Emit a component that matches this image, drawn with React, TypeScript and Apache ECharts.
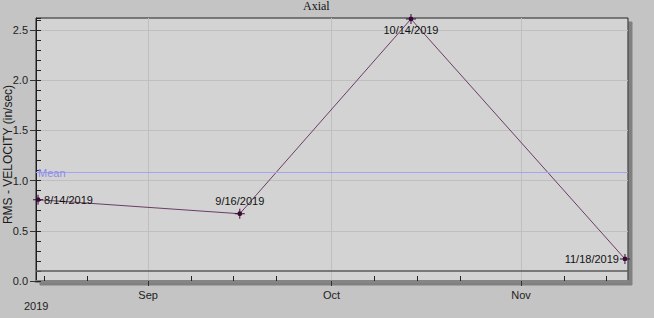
import React, { useEffect, useRef } from "react";
import * as echarts from "echarts";

const pointDates = ["2019-08-14", "2019-09-16", "2019-10-14", "2019-11-18"];
const pointValues = [0.81, 0.67, 2.61, 0.22];
const pointLabels = ["8/14/2019", "9/16/2019", "10/14/2019", "11/18/2019"];
const meanValue = 1.08;
const meanLabel = "Mean";
const alarmValue = 0.1;
const monthTickDates = ["2019-09-01", "2019-10-01", "2019-11-01"];
const monthTickLabels = ["Sep", "Oct", "Nov"];
const weekTickDates = [
  "2019-08-15", "2019-08-22", "2019-09-08", "2019-09-15", "2019-09-22",
  "2019-10-08", "2019-10-15", "2019-10-22", "2019-11-08", "2019-11-15",
];
const yearLabel = "2019";
const yLabelValues = [0, 0.5, 1.0, 1.5, 2.0, 2.5];
const yMax = 2.62;
const xRangeStart = "2019-08-13T16:00";
const xRangeEnd = "2019-11-18T12:00";
const titleText = "Axial";
const yAxisName = "RMS - VELOCITY (in/sec)";

const labelPlacement = ["right", "top", "bottom", "left"];
const labelDistance = [1, 2, 0, 1];

function toTime(s: string): number {
  const [datePart, timePart] = s.split("T");
  const [y, m, d] = datePart.split("-").map(Number);
  let h = 0;
  let mi = 0;
  if (timePart) {
    const parts = timePart.split(":").map(Number);
    h = parts[0];
    mi = parts[1] || 0;
  }
  return new Date(y, m - 1, d, h, mi).getTime();
}

const FONT = "Liberation Sans, Arial, sans-serif";
const markerPath =
  "path://M4.5,0 h1 v4.5 h4.5 v1 h-4.5 v4.5 h-1 v-4.5 h-4.5 v-1 h4.5 z M7.4,5 A2.4,2.4 0 1 1 2.6,5 A2.4,2.4 0 1 1 7.4,5 z";

export default function App() {
  const ref = useRef<HTMLDivElement>(null);
  useEffect(() => {
    document.body.style.margin = "0";
    if (!ref.current) return;
    const chart = echarts.init(ref.current, undefined, { renderer: "svg" });
    const xMin = toTime(xRangeStart);
    const xMax = toTime(xRangeEnd);
    const monthTimes = monthTickDates.map(toTime);
    const weekTimes = weekTickDates.map(toTime);

    const data = pointDates.map((d, i) => ({
      value: [toTime(d), pointValues[i]],
      label: {
        show: true,
        formatter: pointLabels[i],
        position: labelPlacement[i] as any,
        distance: labelDistance[i],
      },
    }));

    chart.setOption({
      animation: false,
      backgroundColor: "#c4c4c4",
      title: {
        text: titleText,
        left: 303,
        top: 0,
        padding: 0,
        textStyle: {
          fontFamily: "Liberation Serif, Times New Roman, serif",
          fontSize: 12,
          fontWeight: "normal",
          color: "#111",
        },
      },
      graphic: [
        {
          type: "text",
          left: 24,
          top: 300,
          style: {
            text: yearLabel,
            font: `11px ${FONT}`,
            fill: "#222",
          },
        },
      ],
      grid: {
        left: 36,
        right: 26,
        top: 18,
        bottom: 37,
        containLabel: false,
        outerBoundsMode: "none",
        show: true,
        backgroundColor: "#d3d3d3",
        borderColor: "#1e1e1e",
        borderWidth: 1,
        shadowColor: "#808080",
        shadowBlur: 0,
        shadowOffsetX: 4,
        shadowOffsetY: 4,
      },
      xAxis: [
        {
          type: "value",
          min: xMin,
          max: xMax,
          axisLine: { show: true, lineStyle: { color: "#858585", width: 3 } },
          axisTick: {
            show: true,
            customValues: monthTimes,
            length: 5,
            inside: false,
            lineStyle: { color: "#333", width: 1 },
          },
          axisLabel: {
            customValues: monthTimes,
            formatter: (v: number) => {
              const idx = monthTimes.findIndex((m) => Math.abs(m - v) < 3600000);
              return idx >= 0 ? monthTickLabels[idx] : "";
            },
            fontFamily: FONT,
            fontSize: 11,
            color: "#222",
            margin: 8,
          },
          splitLine: { show: true, lineStyle: { color: "#bfbfbf", width: 1 } },
        },
        {
          type: "value",
          min: xMin,
          max: xMax,
          position: "bottom",
          axisLine: { show: false },
          axisTick: {
            show: true,
            customValues: weekTimes,
            length: 5,
            inside: true,
            lineStyle: { color: "#222", width: 1 },
          },
          axisLabel: { show: false },
          splitLine: { show: false },
        },
      ],
      yAxis: [
        {
          type: "value",
          min: 0,
          max: yMax,
          name: yAxisName,
          nameLocation: "middle",
          nameGap: 22,
          nameMoveOverlap: false,
          nameTextStyle: {
            fontFamily: FONT,
            fontSize: 12,
            color: "#1a1a1a",
            padding: [0, 10, 0, 0],
          },
          axisLine: { show: true, lineStyle: { color: "#1e1e1e", width: 1 } },
          axisTick: {
            show: true,
            customValues: yLabelValues,
            length: 6,
            inside: false,
            lineStyle: { color: "#333" },
          },
          axisLabel: {
            customValues: yLabelValues,
            formatter: (v: number) => v.toFixed(1),
            fontFamily: FONT,
            fontSize: 11,
            color: "#222",
            margin: 8,
          },
          splitLine: { show: true, lineStyle: { color: "#bfbfbf", width: 1 } },
        },
        {
          type: "value",
          min: 0,
          max: yMax,
          interval: 0.1,
          position: "left",
          axisLine: { show: false },
          axisTick: { show: true, inside: true, length: 5, lineStyle: { color: "#222" } },
          axisLabel: { show: false },
          splitLine: { show: false },
        },
      ],
      series: [
        {
          type: "line",
          xAxisIndex: 0,
          yAxisIndex: 0,
          data,
          symbol: markerPath,
          symbolSize: 10,
          symbolKeepAspect: true,
          itemStyle: { color: "#3a0a36" },
          lineStyle: { color: "#6b3d66", width: 1 },
          label: {
            fontFamily: FONT,
            fontSize: 11,
            color: "#111",
          },
          emphasis: { disabled: true },
          markLine: {
            silent: true,
            symbol: "none",
            data: [
              {
                yAxis: meanValue,
                lineStyle: { color: "#a4a4f2", width: 1, type: "solid" },
                label: {
                  show: true,
                  formatter: meanLabel,
                  position: "insideStartTop",
                  distance: [2, -5.5],
                  fontFamily: FONT,
                  fontSize: 11,
                  color: "#8c8ce8",
                },
              },
              {
                yAxis: alarmValue,
                lineStyle: { color: "#5a5a5a", width: 1.5, type: "solid" },
                label: { show: false },
              },
            ],
          },
        },
      ],
    });
    return () => chart.dispose();
  }, []);
  return (
    <div
      ref={ref}
      style={{ position: "absolute", left: 0, top: 0, width: 654, height: 318 }}
    />
  );
}
